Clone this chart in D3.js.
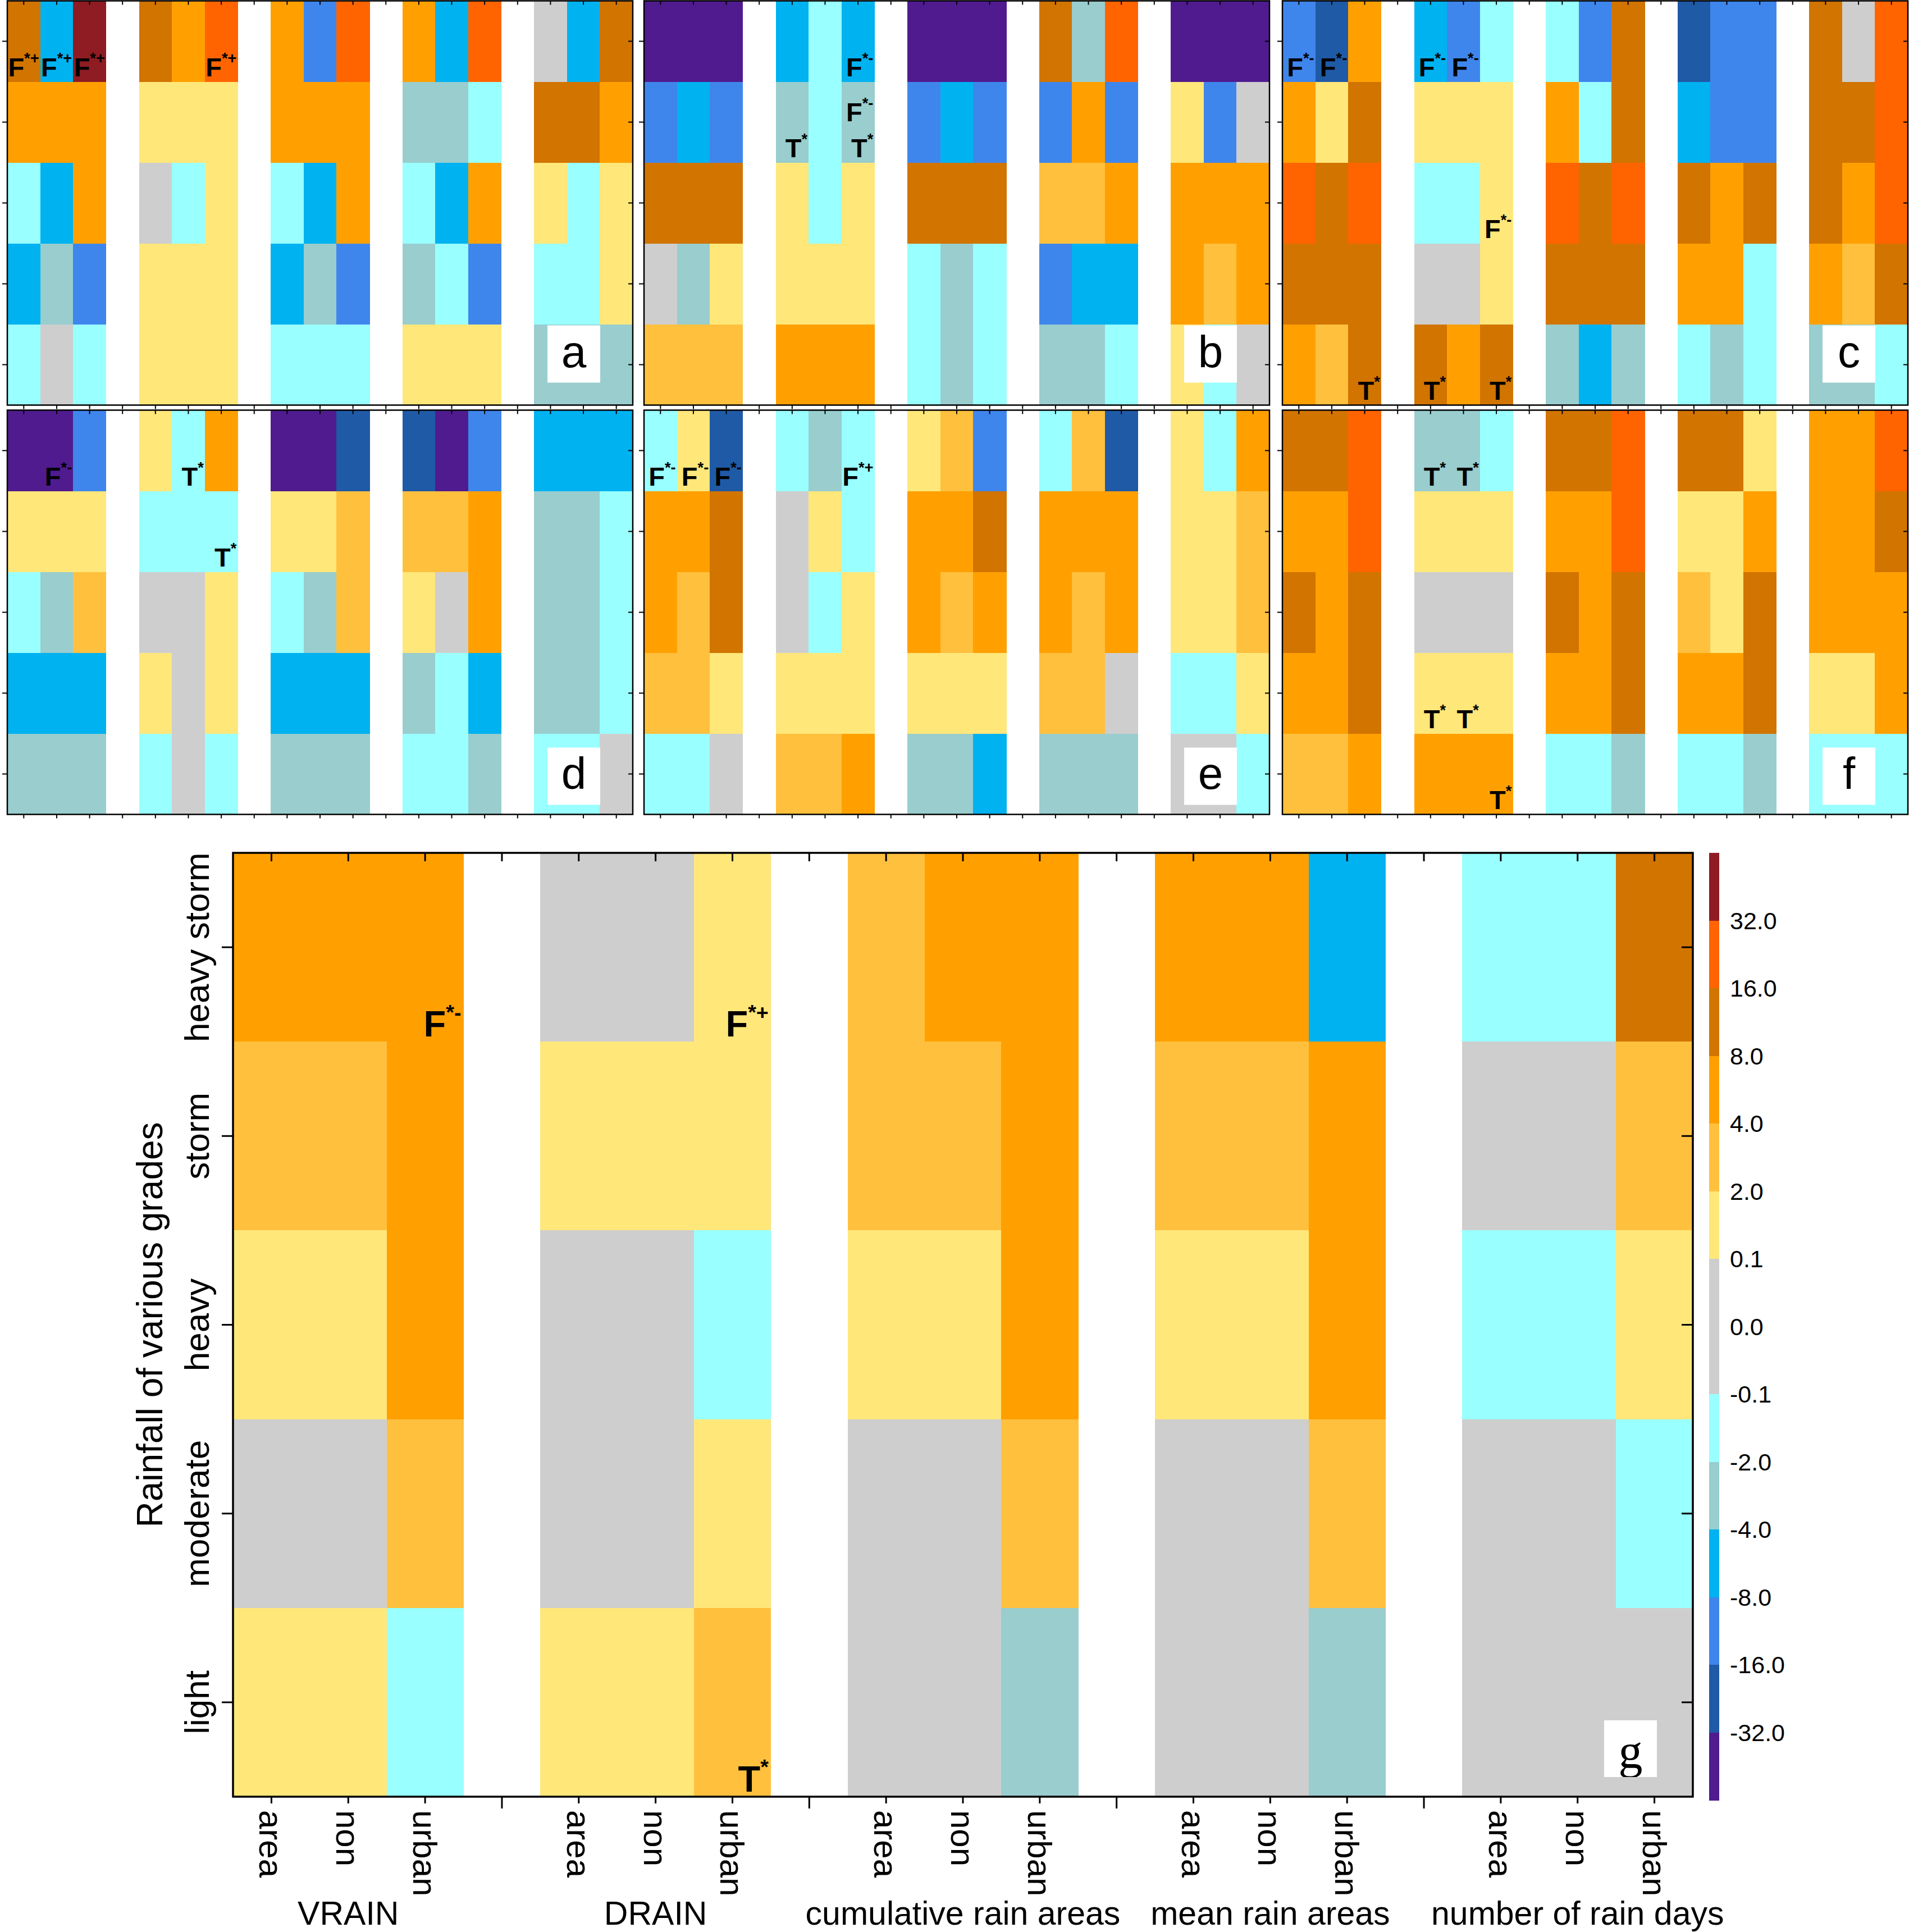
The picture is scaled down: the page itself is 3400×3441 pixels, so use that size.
<!DOCTYPE html>
<html>
<head>
<meta charset="utf-8">
<script src="https://cdn.jsdelivr.net/npm/d3@7"></script>
<style>
  html, body { margin: 0; padding: 0; background: #fff; }
  svg { display: block; }
</style>
</head>
<body>
<div id="chart"></div>
<script>
// ---------------- DATA ----------------
const grades = ["heavy storm", "storm", "heavy", "moderate", "light"];
const subLabels = ["area", "non", "urban"];
const groupLabels = ["VRAIN", "DRAIN", "cumulative rain areas", "mean rain areas", "number of rain days"];
const thresholds = [-32, -16, -8, -4, -2, -0.1, 0, 0.1, 2, 4, 8, 16, 32];
const binColors = ["#501B8F", "#1F5AA6", "#3F86EC", "#00B2F0", "#99CDCE", "#99FFFF",
                   "#CECECE", "#CECECE", "#FFE77A", "#FFC03E", "#FFA000", "#D17400", "#FF6400", "#8E1C22"];
const colorbarLabels = ["32.0", "16.0", "8.0", "4.0", "2.0", "0.1", "0.0", "-0.1", "-2.0", "-4.0", "-8.0", "-16.0", "-32.0"];

// rows = grades (heavy storm .. light); 15 columns = 5 groups x (area, non, urban)
const panelA = [
  [10, -5, 40,   10, 6, 20,   6, -10, 20,   6, -5, 20,   0, -5, 10],
  [6, 6, 6,      1, 1, 1,     6, 6, 6,      -3, -3, -1,  10, 10, 6],
  [-1, -5, 6,    0, -1, 1,    -1, -5, 6,    -1, -5, 6,   1, -1, 1],
  [-5, -3, -10,  1, 1, 1,     -5, -3, -10,  -3, -1, -10, -1, -1, 1],
  [-1, 0, -1,    1, 1, 1,     -1, -1, -1,   1, 1, 1,     -3, -3, -3]
];
const panelB = [
  [-40, -40, -40, -5, -1, -5,  -40, -40, -40, 10, -3, 20,  -40, -40, -40],
  [-10, -5, -10,  -3, -1, -3,  -10, -5, -10,  -10, 6, -10, 1, -10, 0],
  [10, 10, 10,    1, -1, 1,    10, 10, 10,    3, 3, 6,     6, 6, 6],
  [0, -3, 1,      1, 1, 1,     -1, -3, -1,    -10, -5, -5, 6, 3, 6],
  [3, 3, 3,       6, 6, 6,     -1, -3, -1,    -3, -3, -1,  1, -1, 0]
];
const panelC = [
  [-10, -20, 6,  -5, -10, -1,  -1, -10, 10,  -20, -10, -10, 10, 0, 20],
  [6, 1, 10,     1, 1, 1,      6, -1, 10,    -5, -10, -10,  10, 10, 20],
  [20, 10, 20,   -1, -1, 1,    20, 10, 20,   10, 6, 10,     10, 6, 20],
  [10, 10, 10,   0, 0, 1,      10, 10, 10,   6, 6, -1,      6, 3, 10],
  [6, 3, 10,     10, 6, 10,    -3, -5, -3,   -1, -3, -1,    -3, -3, -1]
];
const panelD = [
  [-40, -40, -10, 1, -1, 6,    -40, -40, -20, -20, -40, -10, -5, -5, -5],
  [1, 1, 1,       -1, -1, -1,  1, 1, 3,       3, 3, 6,       -3, -3, -1],
  [-1, -3, 3,     0, 0, 1,     -1, -3, 3,     1, 0, 6,       -3, -3, -1],
  [-5, -5, -5,    1, 0, 1,     -5, -5, -5,    -3, -1, -5,    -3, -3, -1],
  [-3, -3, -3,    -1, 0, -1,   -3, -3, -3,    -1, -1, -3,    -1, -1, 0]
];
const panelE = [
  [-1, 1, -20,  -1, -3, -1,  1, 3, -10,   -1, 3, -20,  1, -1, 6],
  [6, 6, 10,    0, 1, -1,    6, 6, 10,    6, 6, 6,     1, 1, 3],
  [6, 3, 10,    0, -1, 1,    6, 3, 6,     6, 3, 6,     1, 1, 3],
  [3, 3, 1,     1, 1, 1,     1, 1, 1,     3, 3, 0,     -1, -1, 1],
  [-1, -1, 0,   3, 3, 6,     -3, -3, -5,  -3, -3, -3,  0, 0, -1]
];
const panelF = [
  [10, 10, 20,  -3, -3, -1,  10, 10, 20,  10, 10, 1,   6, 6, 20],
  [6, 6, 20,    1, 1, 1,     6, 6, 20,    1, 1, 6,     6, 6, 10],
  [10, 6, 10,   0, 0, 0,     10, 6, 10,   3, 1, 10,    6, 6, 6],
  [6, 6, 10,    1, 1, 1,     6, 6, 10,    6, 6, 10,    1, 1, 6],
  [3, 3, 6,     6, 6, 6,     -1, -1, -3,  -1, -1, -3,  -1, -1, -1]
];
const panelG = [
  [6, 6, 6,   0, 0, 1,    3, 6, 6,   6, 6, -5,  -1, -1, 10],
  [3, 3, 6,   1, 1, 1,    3, 3, 6,   3, 3, 6,   0, 0, 3],
  [1, 1, 6,   0, 0, -1,   1, 1, 6,   1, 1, 6,   -1, -1, 1],
  [0, 0, 3,   0, 0, 1,    0, 0, 3,   0, 0, 3,   0, 0, -1],
  [1, 1, -1,  1, 1, 3,    0, 0, -3,  0, 0, -3,  0, 0, 0]
];

// annotations: [row, column, letter, superscript, stack level]
const notesA = [[0, 0, "F", "*+", 0], [0, 1, "F", "*+", 0], [0, 2, "F", "*+", 0], [0, 5, "F", "*+", 0]];
const notesB = [[0, 5, "F", "*-", 0], [1, 5, "F", "*-", 1], [1, 3, "T", "*", 0], [1, 5, "T", "*", 0]];
const notesC = [[0, 0, "F", "*-", 0], [0, 1, "F", "*-", 0], [0, 3, "F", "*-", 0], [0, 4, "F", "*-", 0],
                [2, 5, "F", "*-", 0], [4, 2, "T", "*", 0], [4, 3, "T", "*", 0], [4, 5, "T", "*", 0]];
const notesD = [[0, 1, "F", "*-", 0], [0, 4, "T", "*", 0], [1, 5, "T", "*", 0]];
const notesE = [[0, 0, "F", "*-", 0], [0, 1, "F", "*-", 0], [0, 2, "F", "*-", 0], [0, 5, "F", "*+", 0]];
const notesF = [[0, 3, "T", "*", 0], [0, 4, "T", "*", 0], [3, 3, "T", "*", 0], [3, 4, "T", "*", 0], [4, 5, "T", "*", 0]];
const notesG = [[0, 2, "F", "*-", 0], [0, 5, "F", "*+", 0], [4, 5, "T", "*", 0]];

// ---------------- DRAWING ----------------
const W = 3400, H = 3441;
const FONT = "'Liberation Sans', Arial, Helvetica, sans-serif";
const svg = d3.select("#chart").append("svg")
  .attr("width", W).attr("height", H).attr("viewBox", `0 0 ${W} ${H}`);
svg.append("rect").attr("width", W).attr("height", H).attr("fill", "#fff");

const color = d3.scaleThreshold().domain(thresholds).range(binColors);

const slotKeys = [];
groupLabels.forEach((g, gi) => {
  subLabels.forEach((s, si) => slotKeys.push(gi + "-" + si));
  if (gi < groupLabels.length - 1) slotKeys.push("gap" + gi);
});
const colKey = ci => Math.floor(ci / 3) + "-" + (ci % 3);

function drawPanel(cfg) {
  const g = svg.append("g");
  const xs = d3.scaleBand().domain(slotKeys).range([cfg.x, cfg.x + cfg.w]);
  const ys = d3.scaleBand().domain(grades).range([cfg.y, cfg.y + cfg.h]);
  const cells = cfg.data.flatMap((row, ri) => row.map((v, ci) => ({ grade: grades[ri], key: colKey(ci), v })));

  g.append("g").selectAll("rect").data(cells).join("rect")
    .attr("x", d => xs(d.key)).attr("y", d => ys(d.grade))
    .attr("width", xs.bandwidth() + 0.6).attr("height", ys.bandwidth() + 0.6)
    .attr("fill", d => color(d.v))
    .attr("shape-rendering", "crispEdges");

  const t = cfg.ticks;
  const axisStyle = sel => {
    sel.select(".domain").remove();
    sel.selectAll(".tick line").attr("stroke", "#000").attr("stroke-width", t.sw);
    sel.selectAll(".tick text").remove();
  };
  g.append("g").attr("transform", `translate(0,${cfg.y})`)
    .call(d3.axisTop(xs).tickSize(-t.top).tickFormat("")).call(axisStyle);
  const bottom = g.append("g").attr("transform", `translate(0,${cfg.y + cfg.h})`)
    .call(d3.axisBottom(xs).tickSize(t.bottom).tickFormat("")).call(axisStyle);
  if (t.gapBottom) {
    bottom.selectAll(".tick").filter(d => String(d).startsWith("gap"))
      .select("line").attr("y2", t.gapBottom);
  }
  g.append("g").attr("transform", `translate(${cfg.x},0)`)
    .call(d3.axisLeft(ys).tickSize(t.left).tickFormat("")).call(axisStyle);
  g.append("g").attr("transform", `translate(${cfg.x + cfg.w},0)`)
    .call(d3.axisRight(ys).tickSize(-t.right).tickFormat("")).call(axisStyle);

  g.append("rect").attr("x", cfg.x).attr("y", cfg.y).attr("width", cfg.w).attr("height", cfg.h)
    .attr("fill", "none").attr("stroke", "#000").attr("stroke-width", cfg.frame);

  // annotations
  const fs = cfg.noteSize;
  const nt = g.append("g").selectAll("text").data(cfg.notes).join("text")
    .attr("x", d => xs(colKey(d[1])) + xs.bandwidth() - cfg.notePad)
    .attr("y", d => ys(grades[d[0]]) + ys.bandwidth() - cfg.noteBottom - d[4] * cfg.stackGap)
    .attr("text-anchor", "end")
    .attr("font-family", FONT).attr("font-weight", "bold").attr("fill", "#000");
  nt.append("tspan").attr("font-size", fs).text(d => d[2]);
  nt.append("tspan").attr("font-size", fs * 0.58).attr("dy", -fs * 0.47).text(d => d[3]);

  // panel letter box
  const b = cfg.box;
  g.append("rect").attr("x", cfg.x + b.dx).attr("y", cfg.y + b.dy).attr("width", b.w).attr("height", b.h)
    .attr("fill", "#fff");
  const clipId = "clip-" + cfg.letter;
  svg.append("clipPath").attr("id", clipId).append("rect")
    .attr("x", cfg.x + b.dx).attr("y", cfg.y + b.dy).attr("width", b.w).attr("height", b.h);
  g.append("text").attr("x", cfg.x + b.dx + b.w / 2).attr("y", cfg.y + b.dy + b.base)
    .attr("text-anchor", "middle").attr("font-family", b.font).attr("font-size", b.size)
    .attr("clip-path", `url(#${clipId})`)
    .text(cfg.letter);

  return { xs, ys };
}

const smallTicks = { top: 7, bottom: 7, left: 9, right: 8, sw: 2 };
const smallCommon = { w: 1114, h: 720, ticks: smallTicks, frame: 2.5, noteSize: 47, notePad: 2, noteBottom: 10, stackGap: 64 };
const boxTop = { dx: 962, dy: 578, w: 94, h: 102, base: 74, size: 80, font: FONT };
const boxBot = { dx: 962, dy: 601, w: 94, h: 102, base: 73, size: 80, font: FONT };

const smallPanels = [
  { x: 13,   y: 1.5,   data: panelA, notes: notesA, letter: "a", box: boxTop },
  { x: 1147, y: 1.5,   data: panelB, notes: notesB, letter: "b", box: boxTop },
  { x: 2284, y: 1.5,   data: panelC, notes: notesC, letter: "c", box: boxTop },
  { x: 13,   y: 730.5, data: panelD, notes: notesD, letter: "d", box: boxBot },
  { x: 1147, y: 730.5, data: panelE, notes: notesE, letter: "e", box: boxBot },
  { x: 2284, y: 730.5, data: panelF, notes: notesF, letter: "f", box: boxBot }
];
smallPanels.forEach(p => drawPanel(Object.assign({}, smallCommon, p)));

// big panel g
const G = { x: 415, y: 1519, w: 2600, h: 1681 };
const gScales = drawPanel(Object.assign({}, G, {
  data: panelG, notes: notesG, letter: "g",
  ticks: { top: 15, bottom: 12, gapBottom: 21, left: 20, right: 20, sw: 3 },
  frame: 3.5, noteSize: 65, notePad: 4, noteBottom: 9, stackGap: 80,
  box: { dx: 2442, dy: 1545, w: 94, h: 101, base: 84, size: 86, font: "'Liberation Serif', 'Times New Roman', serif" }
}));

// bottom category labels
const labelG = svg.append("g").attr("font-family", FONT).attr("fill", "#000");
const subCells = d3.range(15).map(ci => ({ key: colKey(ci), label: subLabels[ci % 3] }));
labelG.selectAll("text.sub").data(subCells).join("text").attr("class", "sub")
  .attr("transform", d => `translate(${gScales.xs(d.key) + gScales.xs.bandwidth() / 2},3224) rotate(90)`)
  .attr("dy", "0.35em").attr("font-size", 60).text(d => d.label);

labelG.selectAll("text.grp").data(groupLabels).join("text").attr("class", "grp")
  .attr("x", (d, i) => gScales.xs(i + "-1") + gScales.xs.bandwidth() / 2)
  .attr("y", 3428).attr("text-anchor", "middle").attr("font-size", 59).text(d => d);

// y labels
labelG.selectAll("text.grade").data(grades).join("text").attr("class", "grade")
  .attr("transform", d => `translate(372,${gScales.ys(d) + gScales.ys.bandwidth() / 2}) rotate(-90)`)
  .attr("text-anchor", "middle").attr("font-size", 62).text(d => d);

labelG.append("text")
  .attr("transform", `translate(289,${G.y + G.h / 2}) rotate(-90)`)
  .attr("text-anchor", "middle").attr("font-size", 64).text("Rainfall of various grades");

// colorbar
const cb = { x: 3044, y: 1519, w: 18, h: 1687 };
const cbColors = binColors.slice().reverse();
const cbScale = d3.scaleBand().domain(d3.range(cbColors.length)).range([cb.y, cb.y + cb.h]);
svg.append("g").selectAll("rect").data(cbColors).join("rect")
  .attr("x", cb.x).attr("y", (d, i) => cbScale(i)).attr("width", cb.w).attr("height", cbScale.bandwidth() + 0.6)
  .attr("fill", d => d).attr("shape-rendering", "crispEdges");
svg.append("g").attr("font-family", FONT).selectAll("text").data(colorbarLabels).join("text")
  .attr("x", 3081).attr("y", (d, i) => cbScale(i + 1))
  .attr("dy", "0.35em").attr("font-size", 43).text(d => d);
</script>
</body>
</html>
